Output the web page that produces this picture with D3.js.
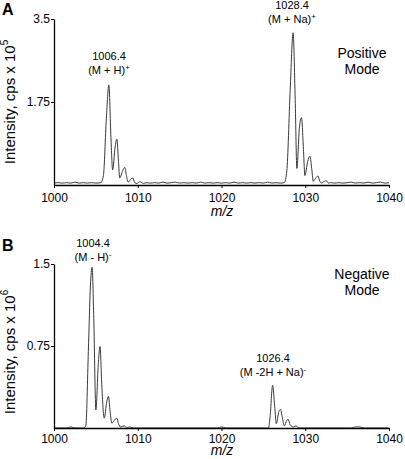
<!DOCTYPE html>
<html>
<head>
<meta charset="utf-8">
<script src="https://cdn.jsdelivr.net/npm/d3@7"></script>
<style>
  html, body { margin: 0; padding: 0; background: #fff; }
  svg { display: block; font-family: "Liberation Sans", Arial, Helvetica, sans-serif; }
</style>
</head>
<body>
<svg id="chart" width="405" height="459"></svg>
<script>
// ---- Data ----
const xTicks = [1000, 1010, 1020, 1030, 1040];
const yTicksA = [1.75, 3.5];
const yTicksB = [0.75, 1.5];

// Panel A: positive mode spectrum (intensity x 10^5)
const mzA = [1000.0,1000.5,1001.0,1001.5,1002.0,1002.5,1003.0,1003.5,1004.0,1004.5,1005.0,1005.6,
  1005.9,1006.25,1006.55,1006.8,1007.0,1007.3,1007.5,1007.7,1007.85,1008.2,1008.45,1008.65,1008.85,
  1009.2,1009.4,1009.65,1009.9,1010.2,1010.4,1010.7,1011.0,1011.5,1012.0,1012.5,1013.0,1013.5,1014.0,
  1014.5,1015.0,1015.5,1016.0,1016.5,1017.0,1017.5,1018.0,1018.5,1019.0,1019.5,1020.0,1020.5,1021.0,
  1021.5,1022.0,1022.5,1023.0,1023.5,1024.0,1024.5,1025.0,1025.5,1026.0,1026.5,1027.0,1027.5,
  1027.8,1028.2,1028.55,1028.8,1029.0,1029.3,1029.55,1029.8,1029.95,1030.3,1030.55,1030.8,1030.95,
  1031.3,1031.5,1031.75,1031.95,1032.3,1032.5,1032.8,1033.0,1033.5,1034.0,1034.5,1035.0,1035.5,
  1036.0,1036.5,1037.0,1037.5,1038.0,1038.5,1039.0,1039.5,1040.0];
const intA = [0.04,0.05,0.04,0.05,0.04,0.06,0.04,0.05,0.04,0.05,0.04,0.05,
  0.2,1.4,2.11,1.0,0.32,0.8,0.97,0.5,0.15,0.3,0.37,0.2,0.06,
  0.13,0.15,0.05,0.03,0.07,0.06,0.03,0.05,0.04,0.05,0.04,0.06,0.04,0.05,
  0.06,0.04,0.05,0.04,0.05,0.04,0.06,0.04,0.05,0.04,0.05,0.04,0.05,0.04,
  0.06,0.04,0.05,0.04,0.05,0.04,0.05,0.04,0.06,0.04,0.05,0.04,0.05,
  0.3,2.0,3.21,1.8,0.35,1.2,1.42,0.7,0.2,0.5,0.61,0.3,0.08,
  0.16,0.19,0.08,0.04,0.08,0.09,0.04,0.05,0.04,0.05,0.04,0.05,0.06,
  0.04,0.05,0.04,0.06,0.04,0.05,0.06,0.04,0.05];

// Panel B: negative mode spectrum (intensity x 10^6)
const mzB = [1000.0,1001.5,1002.0,1002.5,1003.5,1003.8,1004.1,1004.35,1004.55,1004.75,1005.0,
  1005.3,1005.5,1005.7,1006.0,1006.3,1006.5,1006.7,1006.9,1007.3,1007.5,1007.7,1007.95,1008.4,
  1008.7,1009.0,1009.5,1019.5,1020.0,1020.5,1025.6,1025.8,1026.1,1026.35,1026.55,1026.85,1027.05,
  1027.3,1027.5,1027.8,1027.95,1028.2,1028.6,1028.9,1029.2,1035.5,1036.0,1036.5,1037.0,1040.0];
const intB = [0.0,0.0,0.01,0.0,0.0,0.02,0.7,1.3,1.47,1.0,0.165,
  0.6,0.745,0.4,0.09,0.24,0.29,0.15,0.045,0.08,0.09,0.04,0.01,0.02,
  0.0,0.01,0.0,0.0,0.01,0.0,0.0,0.1,0.39,0.2,0.04,0.15,0.17,
  0.08,0.02,0.07,0.08,0.03,0.01,0.02,0.0,0.0,0.01,0.01,0.0,0.0];

// ---- Drawing ----
const svg = d3.select("#chart");
const FONT = '"Liberation Sans", Arial, Helvetica, sans-serif';

function panel(opts) {
  const g = svg.append("g");
  const x = d3.scaleLinear().domain([1000, 1040]).range([54, 389]);
  const y = d3.scaleLinear().domain([0, opts.yMax]).range([opts.y0, opts.yTop]);

  // spectrum
  const pts = opts.mz.map((m, i) => [m, opts.ints[i]]);
  g.append("path")
    .datum(pts)
    .attr("fill", "none")
    .attr("stroke", "#3a3a3a")
    .attr("stroke-width", 1)
    .attr("stroke-linejoin", "round")
    .attr("d", d3.line().x(d => x(d[0])).y(d => y(d[1])).curve(d3.curveMonotoneX));

  // x axis
  const xa = g.append("g")
    .attr("transform", `translate(0,${opts.y0})`)
    .call(d3.axisBottom(x).tickValues(xTicks).tickFormat(d3.format("d"))
      .tickSize(3).tickSizeOuter(0).tickPadding(opts.xPad));
  xa.select(".domain").attr("stroke", "#000").attr("stroke-width", 1.3);
  xa.selectAll(".tick line").attr("stroke", "#000");
  xa.selectAll("text").attr("font-size", 12).attr("font-family", FONT).attr("fill", "#000");

  // y axis
  const ya = g.append("g")
    .attr("transform", `translate(54,0)`)
    .call(d3.axisLeft(y).tickValues(opts.yTicks).tickFormat(opts.fmt)
      .tickSize(3).tickSizeOuter(0).tickPadding(1));
  ya.select(".domain").attr("stroke", "#000").attr("stroke-width", 1.3);
  ya.selectAll(".tick line").attr("stroke", "#000");
  ya.selectAll("text").attr("font-size", 12).attr("font-family", FONT).attr("fill", "#000");

  // y label
  const yl = g.append("text")
    .attr("transform", `translate(15,${opts.ylabY}) rotate(-90)`)
    .attr("text-anchor", "middle")
    .attr("font-size", 15)
    .attr("fill", "#000");
  yl.append("tspan").text("Intensity, cps x 10");
  yl.append("tspan").attr("font-size", 10).attr("dy", -7).text(opts.exp);

  // x label
  g.append("text")
    .attr("x", 222).attr("y", opts.xlabY)
    .attr("text-anchor", "middle")
    .attr("font-size", 14).attr("font-style", "italic")
    .attr("fill", "#000")
    .text("m/z");

  // panel letter
  g.append("text")
    .attr("x", 2).attr("y", opts.letterY)
    .attr("font-size", 16).attr("font-weight", "bold")
    .attr("fill", "#000")
    .text(opts.letter);

  // mode label
  opts.mode.forEach((t, i) => {
    g.append("text")
      .attr("x", 362).attr("y", opts.modeY + i * 16)
      .attr("text-anchor", "middle")
      .attr("font-size", 14).attr("fill", "#000")
      .text(t);
  });

  // peak labels
  opts.peaks.forEach(p => {
    g.append("text")
      .attr("x", p.x).attr("y", p.y)
      .attr("text-anchor", "middle")
      .attr("font-size", 11).attr("fill", "#000")
      .text(p.mass);
    const t = g.append("text")
      .attr("x", p.x).attr("y", p.y + 14)
      .attr("text-anchor", "middle")
      .attr("font-size", 11).attr("fill", "#000");
    t.append("tspan").text(p.ion);
    t.append("tspan").attr("font-size", 8).attr("dy", -4).text(p.sup);
  });
}

panel({
  mz: mzA, ints: intA, yMax: 3.5, y0: 185, yTop: 19, yTicks: yTicksA,
  fmt: d3.format(".2~f"), xPad: 5, ylabY: 102, exp: "5", xlabY: 216,
  letter: "A", letterY: 15, mode: ["Positive", "Mode"], modeY: 58,
  peaks: [
    { x: 109, y: 60, mass: "1006.4", ion: "(M + H)", sup: "+" },
    { x: 292, y: 9, mass: "1028.4", ion: "(M + Na)", sup: "+" }
  ]
});

panel({
  mz: mzB, ints: intB, yMax: 1.5, y0: 428, yTop: 264, yTicks: yTicksB,
  fmt: d3.format(".2~f"), xPad: 3, ylabY: 352, exp: "6", xlabY: 455,
  letter: "B", letterY: 251, mode: ["Negative", "Mode"], modeY: 279,
  peaks: [
    { x: 93, y: 247, mass: "1004.4", ion: "(M - H)", sup: "-" },
    { x: 273, y: 362, mass: "1026.4", ion: "(M -2H + Na)", sup: "-" }
  ]
});
</script>
</body>
</html>
